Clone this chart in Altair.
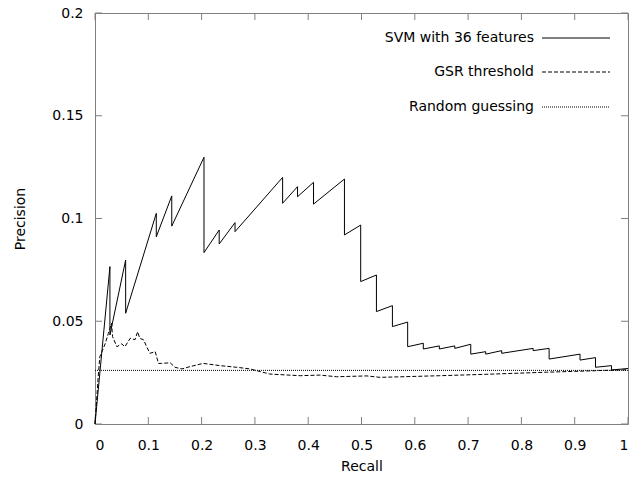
import altair as alt
import pandas as pd

# ---- data ----
svm_x = [0, 0.028, 0.028, 0.0575, 0.0575, 0.115, 0.115, 0.144, 0.144, 0.2045, 0.2045,
         0.233, 0.233, 0.2627, 0.2627, 0.352, 0.352, 0.380, 0.380, 0.41, 0.41, 0.468,
         0.468, 0.4985, 0.4985, 0.528, 0.528, 0.558, 0.558, 0.5866, 0.5866, 0.616,
         0.616, 0.646, 0.646, 0.675, 0.675, 0.705, 0.705, 0.733, 0.733, 0.763, 0.763,
         0.822, 0.822, 0.852, 0.852, 0.91, 0.91, 0.939, 0.939, 0.969, 0.969, 1.0]
svm_y = [0, 0.0766, 0.0433, 0.0798, 0.0539, 0.1025, 0.0911, 0.111, 0.0963, 0.1298, 0.0834,
         0.0944, 0.0876, 0.098, 0.0936, 0.12, 0.1074, 0.1155, 0.1106, 0.1176, 0.107, 0.1192,
         0.092, 0.0968, 0.0693, 0.0725, 0.0547, 0.0576, 0.0474, 0.0496, 0.0376, 0.0393,
         0.0365, 0.038, 0.0365, 0.038, 0.0368, 0.0388, 0.034, 0.0352, 0.034, 0.0357, 0.0344,
         0.0368, 0.0357, 0.0368, 0.0316, 0.034, 0.0311, 0.0323, 0.0276, 0.0284, 0.0263, 0.027]

gsr_x = [0, 0.006, 0.009, 0.019, 0.025, 0.031, 0.033, 0.041, 0.05, 0.056, 0.066, 0.075,
         0.08, 0.084, 0.091, 0.097, 0.103, 0.113, 0.119, 0.125, 0.141, 0.150, 0.163, 0.178,
         0.203, 0.2345, 0.266, 0.291, 0.31, 0.328, 0.385, 0.422, 0.453, 0.51, 0.535, 0.647,
         0.747, 0.847, 0.947, 1.0]
gsr_y = [0, 0.023, 0.0327, 0.039, 0.044, 0.049, 0.0425, 0.0376, 0.039, 0.0376, 0.0417, 0.041,
         0.0449, 0.0417, 0.041, 0.0376, 0.0344, 0.0352, 0.0295, 0.0295, 0.0298, 0.0276, 0.0268,
         0.0279, 0.0295, 0.0284, 0.0276, 0.0268, 0.0255, 0.0243, 0.0235, 0.0238, 0.023, 0.0234,
         0.0227, 0.0235, 0.0243, 0.0252, 0.026, 0.0264]

random_x = [0, 1]
random_y = [0.0261, 0.0261]

x_ticks = [0, 0.1, 0.2, 0.3, 0.4, 0.5, 0.6, 0.7, 0.8, 0.9, 1]
y_ticks = [0, 0.05, 0.1, 0.15, 0.2]
series_labels = ["SVM with 36 features", "GSR threshold", "Random guessing"]

# ---- layout ----
W, H = 533, 411
FONT = "DejaVu Sans"
GRAY = "#808080"
TICK = 7

xs = alt.Scale(domain=[0, 1], nice=False, zero=False)
ys = alt.Scale(domain=[0, 0.2], nice=False, zero=False)
xaxis = alt.Axis(values=x_ticks, format="~g", ticks=False, domain=False, grid=False,
                 labelPadding=14, title="Recall", titlePadding=7)
yaxis = alt.Axis(values=y_ticks, format="~g", ticks=False, domain=False, grid=False,
                 labelPadding=12, title="Precision", titlePadding=24)

X = lambda f: alt.X(f"{f}:Q", scale=xs, axis=xaxis)
Y = lambda f: alt.Y(f"{f}:Q", scale=ys, axis=yaxis)

svm_df = pd.DataFrame({"x": svm_x, "y": svm_y, "o": range(len(svm_x))})
gsr_df = pd.DataFrame({"x": gsr_x, "y": gsr_y, "o": range(len(gsr_x))})
rnd_df = pd.DataFrame({"x": random_x, "y": random_y, "o": range(len(random_x))})
xt_df = pd.DataFrame({"x": x_ticks})
yt_df = pd.DataFrame({"y": y_ticks})

rnd_line = alt.Chart(rnd_df).mark_line(color="black", strokeWidth=1, strokeDash=[1, 1]).encode(
    x=X("x"), y=Y("y"), order="o:Q")
gsr_line = alt.Chart(gsr_df).mark_line(color="black", strokeWidth=1, strokeDash=[4, 2]).encode(
    x=X("x"), y=Y("y"), order="o:Q")
svm_line = alt.Chart(svm_df).mark_line(color="black", strokeWidth=1).encode(
    x=X("x"), y=Y("y"), order="o:Q")

tick_b = alt.Chart(xt_df).mark_rule(color=GRAY).encode(
    x=X("x"), y=alt.value(H), y2=alt.value(H - TICK))
tick_t = alt.Chart(xt_df).mark_rule(color=GRAY).encode(
    x=X("x"), y=alt.value(0), y2=alt.value(TICK))
tick_l = alt.Chart(yt_df).mark_rule(color=GRAY).encode(
    y=Y("y"), x=alt.value(0), x2=alt.value(TICK))
tick_r = alt.Chart(yt_df).mark_rule(color=GRAY).encode(
    y=Y("y"), x=alt.value(W), x2=alt.value(W - TICK))

# legend (gnuplot style: label on the left, sample on the right)
leg_rows = [25, 59, 94]
leg_dash = [None, [4, 2], [1, 1]]
legend_layers = []
for lab, yy, dash in zip(series_labels, leg_rows, leg_dash):
    d = pd.DataFrame({"label": [lab]})
    legend_layers.append(
        alt.Chart(d).mark_text(align="right", baseline="middle", font=FONT, fontSize=14,
                               color="black").encode(
            text="label:N", x=alt.value(439), y=alt.value(yy)))
    kw = dict(color="black", strokeWidth=1)
    if dash:
        kw["strokeDash"] = dash
    legend_layers.append(
        alt.Chart(d).mark_rule(**kw).encode(
            x=alt.value(447), x2=alt.value(515), y=alt.value(yy)))

chart = alt.layer(
    tick_b, tick_t, tick_l, tick_r, rnd_line, gsr_line, svm_line, *legend_layers
).properties(
    width=W, height=H,
    autosize=alt.AutoSizeParams(type="none"),
    padding={"left": 87, "top": 5, "right": 3, "bottom": 48},
).configure_view(
    stroke=GRAY, strokeWidth=1
).configure_axis(
    labelFont=FONT, labelFontSize=14, labelColor="black",
    titleFont=FONT, titleFontSize=14, titleColor="black", titleFontWeight="normal"
)

chart.save("out.html", embed_options={"renderer": "svg", "actions": False})
